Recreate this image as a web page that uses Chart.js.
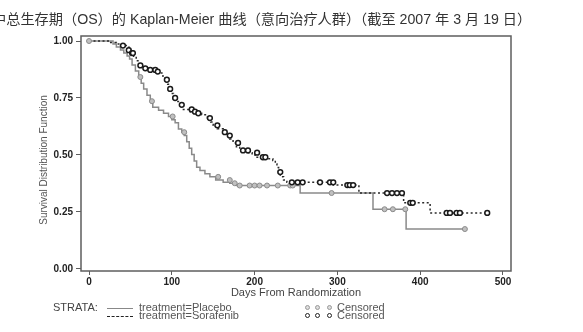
<!DOCTYPE html>
<html>
<head>
<meta charset="utf-8">
<script src="https://cdn.jsdelivr.net/npm/chart.js@4/dist/chart.umd.min.js"></script>
<style>
  html, body { margin: 0; padding: 0; background: #fff; }
  #wrap { position: relative; width: 583px; height: 332px; overflow: hidden; background: #fff; }
  #c { position: absolute; left: 0; top: 0; }
  #title { position: absolute; left: -8px; top: 9px; white-space: nowrap; font-family: "Liberation Sans", "Noto Sans CJK SC", sans-serif; font-size: 14.2px; color: #333; line-height: 20px; }
  .lg { position: absolute; font-family: "Liberation Sans", Arial, sans-serif; font-size: 11px; color: #444; line-height: 11px; white-space: nowrap; }
  .ln { position: absolute; width: 26px; height: 0; }
  .dot { position: absolute; width: 3px; height: 3px; border-radius: 50%; }
</style>
</head>
<body>
<div id="wrap">
  <canvas id="c" width="583" height="332"></canvas>
  <div id="title">中总生存期（OS）的 Kaplan-Meier 曲线（意向治疗人群）（截至 2007 年 3 月 19 日）</div>
  <div class="lg" style="left:53px; top:302px;">STRATA:</div>
  <div class="ln" style="left:107px; top:308px; border-top:1.5px solid #888;"></div>
  <div class="ln" style="left:107px; top:316px; border-top:1.5px dashed #222;"></div>
  <div class="lg" style="left:139px; top:302px; color:#555;">treatment=Placebo</div>
  <div class="lg" style="left:139px; top:310px; color:#555;">treatment=Sorafenib</div>
  <div class="dot" style="left:305px; top:305px; border:1px solid #999; background:#ddd;"></div>
  <div class="dot" style="left:315px; top:305px; border:1px solid #999; background:#ddd;"></div>
  <div class="dot" style="left:327px; top:305px; border:1px solid #999; background:#ddd;"></div>
  <div class="dot" style="left:305px; top:313px; border:1.3px solid #222; background:#fff;"></div>
  <div class="dot" style="left:315px; top:313px; border:1.3px solid #222; background:#fff;"></div>
  <div class="dot" style="left:327px; top:313px; border:1.3px solid #222; background:#fff;"></div>
  <div class="lg" style="left:337px; top:302px; color:#555;">Censored</div>
  <div class="lg" style="left:337px; top:310px; color:#555;">Censored</div>
</div>
<script>
// ---- data ----
const xTickValues = [0, 100, 200, 300, 400, 500];
const yTickValues = [0, 0.25, 0.5, 0.75, 1.0];

const placeboDays = [0, 29, 33, 38, 42, 46, 49, 52, 56, 60, 63, 66, 70, 74, 77, 84, 90, 96, 100, 104, 108, 112, 115, 118, 121, 124, 127, 130, 134, 140, 146, 153, 162, 170, 178, 255, 343, 383, 454];
const placeboSurv = [1.0, 0.987, 0.974, 0.961, 0.947, 0.934, 0.921, 0.895, 0.868, 0.842, 0.815, 0.789, 0.762, 0.736, 0.709, 0.696, 0.683, 0.669, 0.655, 0.641, 0.614, 0.600, 0.586, 0.558, 0.530, 0.502, 0.474, 0.446, 0.432, 0.418, 0.404, 0.390, 0.380, 0.376, 0.366, 0.333, 0.262, 0.175, 0.175];

const placeboCensorDays = [0, 62, 76, 101, 115, 156, 170, 176, 182, 194, 200, 206, 215, 228, 243, 246, 293, 357, 367, 382, 454];
const placeboCensorSurv = [1.0, 0.842, 0.736, 0.669, 0.600, 0.404, 0.390, 0.376, 0.366, 0.366, 0.366, 0.366, 0.366, 0.366, 0.366, 0.366, 0.333, 0.262, 0.262, 0.262, 0.175];

const sorafenibDays = [0, 25, 33, 38, 45, 50, 52, 54, 57, 60, 66, 72, 80, 86, 89, 92, 95, 97, 99, 102, 105, 110, 114, 120, 128, 136, 143, 147, 150, 155, 162, 166, 170, 174, 178, 182, 190, 197, 203, 214, 222, 225, 227, 229, 231, 235, 239, 295, 326, 380, 412, 481];
const sorafenibSurv = [1.0, 0.993, 0.987, 0.980, 0.973, 0.960, 0.947, 0.933, 0.913, 0.893, 0.880, 0.873, 0.866, 0.860, 0.846, 0.830, 0.810, 0.790, 0.770, 0.750, 0.735, 0.720, 0.700, 0.690, 0.683, 0.676, 0.662, 0.645, 0.630, 0.615, 0.600, 0.585, 0.570, 0.553, 0.536, 0.520, 0.510, 0.500, 0.490, 0.483, 0.476, 0.460, 0.445, 0.425, 0.405, 0.390, 0.380, 0.368, 0.333, 0.290, 0.246, 0.246];

const sorafenibCensorDays = [41, 48, 52, 53, 62, 68, 74, 80, 83, 94, 98, 104, 112, 124, 128, 132, 146, 155, 164, 170, 180, 186, 192, 203, 210, 213, 231, 245, 252, 258, 279, 291, 295, 312, 315, 319, 360, 366, 372, 378, 388, 391, 432, 436, 444, 448, 481];
const sorafenibCensorSurv = [0.980, 0.960, 0.947, 0.947, 0.893, 0.880, 0.873, 0.873, 0.866, 0.830, 0.790, 0.750, 0.720, 0.700, 0.690, 0.683, 0.662, 0.630, 0.600, 0.585, 0.553, 0.520, 0.520, 0.510, 0.490, 0.490, 0.425, 0.380, 0.380, 0.380, 0.380, 0.380, 0.380, 0.368, 0.368, 0.368, 0.333, 0.333, 0.333, 0.333, 0.290, 0.290, 0.246, 0.246, 0.246, 0.246, 0.246];

const seriesNames = ['treatment=Placebo', 'treatment=Sorafenib'];
const xAxisTitle = 'Days From Randomization';
const yAxisTitle = 'Survival Distribution Function';

function pts(xs, ys) { return xs.map((x, i) => ({ x: x, y: ys[i] })); }

const framePlugin = {
  id: 'frame',
  afterDraw(chart) {
    const a = chart.chartArea, ctx = chart.ctx;
    ctx.save();
    ctx.strokeStyle = '#5e5e5e';
    ctx.lineWidth = 1.5;
    ctx.strokeRect(a.left, a.top, a.right - a.left, a.bottom - a.top);
    // y axis title
    ctx.translate(44, 160);
    ctx.rotate(-Math.PI / 2);
    ctx.font = '10px "Liberation Sans", Arial, sans-serif';
    ctx.fillStyle = '#555';
    ctx.textAlign = 'center';
    ctx.textBaseline = 'middle';
    ctx.fillText(yAxisTitle, 0, 0);
    ctx.restore();
  }
};

const axisFont = { family: '"Liberation Sans", Arial, sans-serif', size: 10, weight: 'bold' };

new Chart(document.getElementById('c'), {
  type: 'line',
  data: {
    datasets: [
      { label: seriesNames[0], data: pts(placeboDays, placeboSurv), stepped: 'before', borderColor: '#8a8a8a', borderWidth: 1.5, pointRadius: 0, fill: false, order: 3 },
      { label: seriesNames[1], data: pts(sorafenibDays, sorafenibSurv), stepped: 'before', borderColor: '#2a2a2a', borderDash: [2, 2.5], borderWidth: 1.5, pointRadius: 0, fill: false, order: 2 },
      { label: 'Censored', type: 'scatter', data: pts(placeboCensorDays, placeboCensorSurv), showLine: false, pointRadius: 2.5, pointBorderWidth: 1, pointBorderColor: '#8a8a8a', pointBackgroundColor: '#c0c0c0', order: 1 },
      { label: 'Censored', type: 'scatter', data: pts(sorafenibCensorDays, sorafenibCensorSurv), showLine: false, pointRadius: 2.4, pointBorderWidth: 1.5, pointBorderColor: '#1a1a1a', pointBackgroundColor: '#ffffff', order: 0 }
    ]
  },
  options: {
    responsive: false,
    animation: false,
    layout: { padding: { top: 36, right: 72, left: 0, bottom: 31 } },
    plugins: { legend: { display: false }, tooltip: { enabled: false } },
    scales: {
      x: {
        type: 'linear', min: -9.7, max: 509.7,
        afterFit: s => { s.height = 30; },
        afterBuildTicks: s => { s.ticks = xTickValues.map(v => ({ value: v })); },
        border: { display: false },
        grid: { drawOnChartArea: false, drawTicks: true, tickLength: 4, color: '#5e5e5e', lineWidth: 1 },
        ticks: { font: axisFont, color: '#222', padding: 1, maxRotation: 0, callback: v => String(v) },
        title: { display: true, text: xAxisTitle, font: { family: '"Liberation Sans", Arial, sans-serif', size: 11 }, color: '#444', padding: { top: 0, bottom: 1 } }
      },
      y: {
        type: 'linear', min: -0.009, max: 1.022,
        afterFit: s => { s.width = 81; },
        afterBuildTicks: s => { s.ticks = yTickValues.map(v => ({ value: v })); },
        border: { display: false },
        grid: { drawOnChartArea: false, drawTicks: true, tickLength: 5, color: '#5e5e5e', lineWidth: 1 },
        ticks: { font: axisFont, color: '#222', padding: 3, callback: v => Number(v).toFixed(2) },
        title: { display: false }
      }
    }
  },
  plugins: [framePlugin]
});
</script>
</body>
</html>
